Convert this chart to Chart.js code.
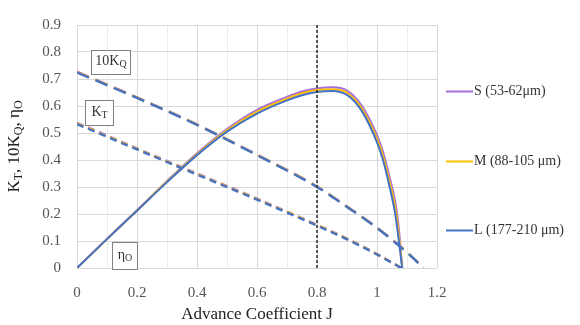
<!DOCTYPE html>
<html>
<head>
<meta charset="utf-8">
<script src="https://cdn.jsdelivr.net/npm/chart.js@4.4.1/dist/chart.umd.min.js"></script>
<style>
  html, body { margin: 0; padding: 0; background: #fff; }
  #wrap { width: 580px; height: 325px; position: relative; }
</style>
</head>
<body>
<div id="wrap"><canvas id="c"></canvas></div>
<script>
// advance coefficient J for the efficiency curves
const J_ETA = [0, 0.1, 0.2, 0.3, 0.4, 0.5, 0.6, 0.7, 0.75, 0.8, 0.85, 0.9, 0.95, 1.0, 1.02, 1.04, 1.06, 1.07, 1.078, 1.084];
const ETA_S = [0, 0.108, 0.214, 0.322, 0.425, 0.515, 0.586, 0.634, 0.654, 0.665, 0.669, 0.657, 0.600, 0.492, 0.43, 0.345, 0.25, 0.175, 0.082, 0];
const ETA_M = [0, 0.107, 0.213, 0.320, 0.421, 0.510, 0.579, 0.627, 0.647, 0.659, 0.662, 0.649, 0.590, 0.478, 0.415, 0.328, 0.228, 0.15, 0.068, 0];
const ETA_L = [0, 0.107, 0.212, 0.318, 0.418, 0.505, 0.572, 0.621, 0.640, 0.652, 0.656, 0.641, 0.580, 0.465, 0.40, 0.31, 0.205, 0.125, 0.055, 0];

// thrust coefficient
const J_KT = [0, 0.2, 0.4, 0.6, 0.8, 0.9, 1.0, 1.081];
const KT_S = [0.538, 0.443, 0.350, 0.257, 0.160, 0.109, 0.052, 0];
const KT_M = [0.536, 0.441, 0.348, 0.255, 0.159, 0.108, 0.051, 0];
const KT_L = [0.533, 0.439, 0.346, 0.253, 0.157, 0.106, 0.050, 0];

// 10 x torque coefficient
const J_KQ = [0, 0.2, 0.4, 0.6, 0.8, 0.9, 1.0, 1.1, 1.155];
const KQ_S = [0.727, 0.632, 0.532, 0.420, 0.302, 0.228, 0.150, 0.059, 0];
const KQ_M = [0.726, 0.631, 0.531, 0.419, 0.301, 0.227, 0.149, 0.058, 0];
const KQ_L = [0.724, 0.630, 0.530, 0.418, 0.300, 0.226, 0.148, 0.057, 0];

// design point marker
const J_DESIGN = 0.8;

const SERIES = ['S (53-62μm)', 'M (88-105 μm)', 'L (177-210 μm)'];
const COLORS = ['#a56ed8', '#ffc000', '#4472c4'];

const X_TICKS = [0, 0.2, 0.4, 0.6, 0.8, 1, 1.2];
const Y_MAX = 0.9;

const FONT = '"Liberation Serif", "DejaVu Serif", serif';

const pts = (xs, ys) => xs.map((x, i) => ({ x, y: ys[i] }));

const datasets = [];
// vertical design line
datasets.push({
  data: [{ x: J_DESIGN, y: 0 }, { x: J_DESIGN, y: Y_MAX }],
  borderColor: '#333',
  borderWidth: 1.6,
  borderDash: [3, 2],
  pointRadius: 0,
  order: 0
});
const groups = [
  { xs: J_KQ, ys: [KQ_S, KQ_M, KQ_L], dash: [13, 7], w: 2.4 },
  { xs: J_KT, ys: [KT_S, KT_M, KT_L], dash: [7, 5], w: 2.4 },
  { xs: J_ETA, ys: [ETA_S, ETA_M, ETA_L], dash: [], w: 2 }
];
groups.forEach(g => {
  g.ys.forEach((ys, k) => {
    datasets.push({
      data: pts(g.xs, ys),
      borderColor: COLORS[k],
      borderWidth: g.w,
      borderDash: g.dash,
      pointRadius: 0,
      cubicInterpolationMode: 'monotone',
      order: 3 - k
    });
  });
});

// draws text with subscripts: parts = [[text, isSub], ...]
function subText(ctx, parts, x, y, size) {
  let cx = x;
  parts.forEach(([t, sub]) => {
    ctx.font = (sub ? Math.round(size * 0.68) : size) + 'px ' + FONT;
    ctx.fillText(t, cx, sub ? y + size * 0.22 : y);
    cx += ctx.measureText(t).width;
  });
  return cx - x;
}
function subWidth(ctx, parts, size) {
  let w = 0;
  parts.forEach(([t, sub]) => {
    ctx.font = (sub ? Math.round(size * 0.68) : size) + 'px ' + FONT;
    w += ctx.measureText(t).width;
  });
  return w;
}

const Extras = {
  id: 'Extras',
  afterDraw(chart) {
    const { ctx, scales } = chart;
    const xs = scales.x, ys = scales.y;

    // label boxes (top-left in data units)
    const boxes = [
      { j: 0.048, v: 0.808, w: 39, h: 24, parts: [['10K', 0], ['Q', 1]] },
      { j: 0.028, v: 0.622, w: 28, h: 25, parts: [['K', 0], ['T', 1]] },
      { j: 0.118, v: 0.098, w: 25, h: 27, parts: [['η', 0], ['O', 1]] }
    ];
    ctx.save();
    boxes.forEach(b => {
      const x = Math.round(xs.getPixelForValue(b.j)) + 0.5;
      const y = Math.round(ys.getPixelForValue(b.v)) + 0.5;
      ctx.fillStyle = '#fff';
      ctx.strokeStyle = '#808080';
      ctx.lineWidth = 1;
      ctx.fillRect(x, y, b.w, b.h);
      ctx.strokeRect(x, y, b.w, b.h);
      ctx.fillStyle = '#333';
      ctx.textBaseline = 'middle';
      ctx.textAlign = 'left';
      const tw = subWidth(ctx, b.parts, 14);
      subText(ctx, b.parts, x + (b.w - tw) / 2, y + b.h / 2 - 1, 14);
    });

    // y axis title
    const yParts = [['K', 0], ['T', 1], [', 10K', 0], ['Q', 1], [', η', 0], ['O', 1]];
    ctx.save();
    ctx.translate(15, (chart.chartArea.top + chart.chartArea.bottom) / 2);
    ctx.rotate(-Math.PI / 2);
    ctx.fillStyle = '#222';
    ctx.textBaseline = 'middle';
    const yw = subWidth(ctx, yParts, 17);
    subText(ctx, yParts, -yw / 2, 0, 17);
    ctx.restore();

    // legend on the right
    const legendY = [0.655, 0.396, 0.14];
    ctx.font = '14px ' + FONT;
    ctx.textBaseline = 'middle';
    SERIES.forEach((name, k) => {
      const y = Math.round(ys.getPixelForValue(legendY[k])) + 0.5;
      ctx.strokeStyle = COLORS[k];
      ctx.lineWidth = 2;
      ctx.beginPath();
      ctx.moveTo(446, y);
      ctx.lineTo(473, y);
      ctx.stroke();
      ctx.fillStyle = '#333';
      ctx.fillText(name, 474, y);
    });
    ctx.restore();
  }
};

new Chart(document.getElementById('c'), {
  type: 'line',
  data: { datasets },
  options: {
    responsive: true,
    maintainAspectRatio: false,
    animation: false,
    layout: { padding: { top: 15, right: 143, left: 0, bottom: 0 } },
    plugins: { legend: { display: false }, tooltip: { enabled: false } },
    scales: {
      x: {
        type: 'linear',
        min: 0,
        max: 1.2,
        afterFit(s) { s.height = 57; },
        afterBuildTicks(s) {
          const t = [];
          for (let i = 0; i <= 12; i++) t.push({ value: i / 10 });
          s.ticks = t;
        },
        ticks: {
          color: '#555',
          font: { family: FONT, size: 15 },
          padding: 16,
          maxRotation: 0,
          autoSkip: false,
          callback: (v) => {
            const r = Math.round(v * 10) / 10;
            return X_TICKS.includes(r) ? String(r) : '';
          }
        },
        grid: {
          drawTicks: false,
          color: (c) => (Math.round(c.tick.value * 10) % 2 === 0 ? '#d9d9d9' : '#ececec'),
          lineWidth: 1
        },
        border: { display: false },
        title: {
          display: true,
          text: 'Advance Coefficient J',
          color: '#222',
          font: { family: FONT, size: 17 },
          padding: { top: 0, bottom: 0 }
        }
      },
      y: {
        min: 0,
        max: Y_MAX,
        afterFit(s) { s.width = 77; },
        ticks: {
          stepSize: 0.1,
          color: '#555',
          font: { family: FONT, size: 15 },
          padding: 16,
          callback: (v) => String(Math.round(v * 10) / 10)
        },
        grid: { drawTicks: false, color: '#d9d9d9', lineWidth: 1 },
        border: { display: false }
      }
    }
  },
  plugins: [Extras]
});
</script>
</body>
</html>
